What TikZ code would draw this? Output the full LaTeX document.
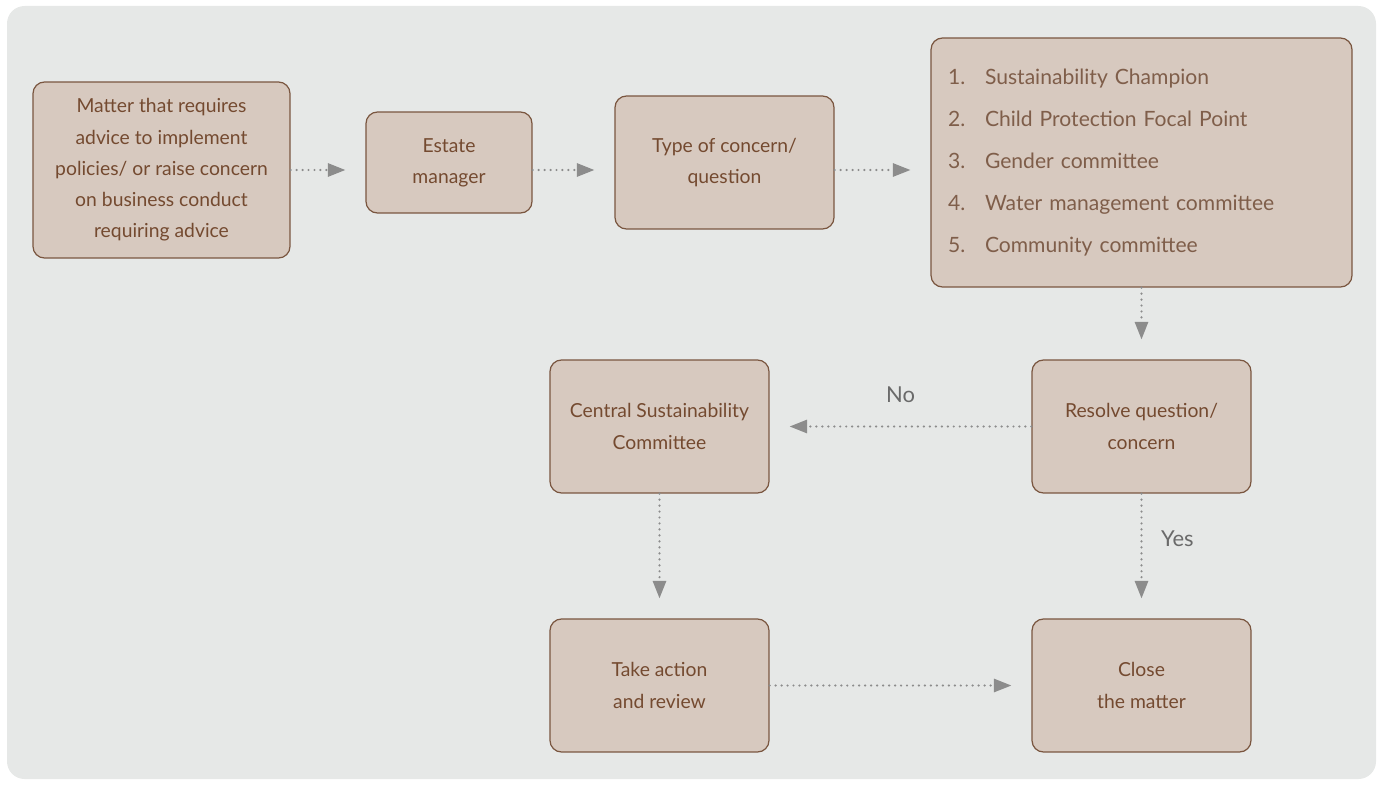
\documentclass[tikz,border=0pt]{standalone}
\usepackage{fontspec}
\setmainfont{Lato}
\usetikzlibrary{arrows.meta, positioning, calc}
\definecolor{panelgray}{HTML}{E6E8E7}
\definecolor{boxfill}{HTML}{D7C9BF}
\definecolor{boxline}{HTML}{7A5640}
\definecolor{boxtext}{HTML}{744A30}
\definecolor{listtext}{HTML}{7F5E4A}
\definecolor{arrowgray}{HTML}{8C8C8C}
\definecolor{labelgray}{HTML}{6A6A6A}
\tikzset{
  box/.style     = {draw=boxline, rounded corners=6.5pt, fill=boxfill, line width=0.7pt,
                    align=center, text=boxtext, inner sep=0pt,
                    font=\fontsize{11}{17.8}\selectfont},
  listbox/.style = {box, align=left, text=listtext, text width=7.74cm,
                    font=\fontsize{12}{24}\selectfont},
  arrow/.style   = {draw=arrowgray, line width=1.4pt, line cap=round,
                    dash pattern=on 0pt off 3.4pt,
                    -{Triangle[length=10pt, width=7.5pt]}, shorten >=0.4cm},
  lbl/.style     = {text=labelgray, inner sep=0pt, font=\fontsize{12.5}{14}\selectfont},
}
\newcommand{\itemno}[1]{\makebox[0.74cm][l]{#1}}

\begin{document}
\begin{tikzpicture}[x=0.02cm, y=-0.02cm]
  \useasboundingbox (0,0) rectangle (1382,784);
  % panel
  \fill[panelgray, rounded corners=10pt] (7,6) rectangle (1376,779);

  % top row
  \node[box, minimum width=5.14cm, minimum height=3.52cm] (matter) at (161.5,170)
    {Matter that requires\\ advice to implement\\ policies/ or raise concern\\ on business conduct\\ requiring advice};
  \node[box, minimum width=3.32cm, minimum height=2.02cm] (estate) at (449,162.5)
    {Estate\\ manager};
  \node[box, minimum width=4.38cm, minimum height=2.66cm] (concern) at (724.5,162.5)
    {Type of concern/\\ question};
  \node[listbox, minimum width=8.42cm, minimum height=4.98cm] (champions) at (1141.5,162.5)
    {\itemno{1.}Sustainability Champion\\
     \itemno{2.}Child Protection Focal Point\\
     \itemno{3.}Gender committee\\
     \itemno{4.}Water management committee\\
     \itemno{5.}Community committee};

  % lower rows
  \node[box, minimum width=4.38cm, minimum height=2.66cm] (resolve) at (1141.5,426.5)
    {Resolve question/\\ concern};
  \node[box, minimum width=4.38cm, minimum height=2.66cm] (central) at (659.5,426.5)
    {Central Sustainability\\ Committee};
  \node[box, minimum width=4.38cm, minimum height=2.66cm] (action) at (659.5,685.5)
    {Take action\\ and review};
  \node[box, minimum width=4.38cm, minimum height=2.66cm] (close) at (1141.5,685.5)
    {Close\\ the matter};

  % connectors
  \draw[arrow] (matter.east) -- (matter.east -| estate.west);
  \draw[arrow] (estate.east |- matter.east) -- (matter.east -| concern.west);
  \draw[arrow] (concern.east |- matter.east) -- (matter.east -| champions.west);
  \foreach \a/\b in {champions/resolve, central/action, action/close}
    \draw[arrow] (\a) -- (\b);
  \draw[arrow] (resolve) -- node[lbl, above=0.45cm] (no) {No} (central);
  \draw[arrow] (resolve) -- node[lbl, pos=0.36, right=0.37cm] (yes) {Yes} (close);
\end{tikzpicture}
\end{document}
